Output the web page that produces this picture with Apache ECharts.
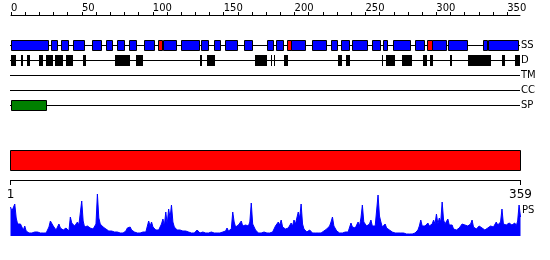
<!DOCTYPE html>
<html><head><meta charset="utf-8">
<script src="https://cdn.jsdelivr.net/npm/echarts@6/dist/echarts.min.js"></script>
<style>html,body{margin:0;padding:0;background:#fff}#c{width:550px;height:260px}</style>
</head><body><div id="c"></div>
<script>
const seqLength = 359;
const trackNames = ['SS', 'D', 'TM', 'CC', 'SP'];
const rulerTicks = [0,10,20,30,40,50,60,70,80,90,100,110,120,130,140,150,160,170,180,190,200,210,220,230,240,250,260,270,280,290,300,310,320,330,340,350];
const rulerLabels = [0,50,100,150,200,250,300,350];
const psEnds = [1, 359];

const ssHelix = [[0,26.4],[28.2,32.2],[35.6,40.4],[44,51.3],[57.3,63.3],[67.2,71.4],[75.1,79.5],[83.4,88.4],[94.1,101.1],[107.4,116.7],[119.9,132.4],[134.2,138.7],[143.5,147.7],[151.1,159.6],[164.5,170.2],[180.7,184.6],[186.7,191.6],[197.5,207.1],[212.5,222.4],[225.9,229.7],[232.9,238.1],[240.7,250.8],[254.6,260.4],[262.3,265],[269.7,281.7],[284.6,291.6],[296.7,307.1],[308.2,321.8],[333.1,336],[336.4,357.8]];
const ssStrand = [[103.5,106.7],[194.9,197.5],[293.6,296.7]];
const disorder = [[0,3.5],[6.8,8.5],[11.3,13.2],[19.7,22.6],[25,29.8],[31,36.9],[39,43.9],[50.8,52.9],[73.3,83.6],[88.2,93.1],[133.5,134.6],[138.4,143.7],[172.1,180.8],[183.1,184.1],[185.3,186.4],[192.9,195.1],[230.6,233.8],[236.2,239.1],[261.6,262.7],[264.5,270.5],[275.9,283],[290.7,293.2],[295.8,297.8],[309.6,310.8],[322.4,338.4],[346.4,348.2],[355.2,359]];
const signalPeptide = [[0,25]];
const domains = [[0,359]];

const psValues = [
29,25,27,32,18,12,11,12,10,6, 10,5,4,3,4,3,3,4,3,4,
4,3,3,3,4,3,5,9,15,16, 10,8,6,7,12,8,6,6,5,8,
9,5,19,13,11,10,8,14,11,12, 35,15,9,9,10,9,8,9,7,8,
12,42,18,12,10,9,8,7,6,5, 6,5,4,4,3,4,3,3,4,3,
4,5,8,6,9,6,5,4,3,3, 4,3,3,4,3,4,6,15,10,14,
9,8,6,5,6,7,12,17,10,24, 12,27,18,31,14,9,7,6,5,6,
5,5,6,5,5,4,4,3,4,3, 4,6,4,3,3,4,3,3,4,3,
5,4,3,3,4,3,4,3,5,4, 3,5,8,5,6,7,24,14,9,8,
11,9,15,10,9,11,9,10,14,33, 12,9,6,4,3,4,3,3,4,3,
3,4,3,3,4,3,10,12,14,11, 16,9,8,7,6,8,10,13,10,16,
12,18,24,18,32,12,7,5,4,5, 6,4,3,4,3,4,3,4,3,4,
5,6,7,9,10,14,19,10,8,5, 4,3,4,3,3,4,3,4,6,13,
9,10,8,10,14,10,18,31,14,12, 10,11,12,16,10,9,10,12,41,20,
14,9,10,12,8,6,6,5,4,3, 3,2,3,2,3,2,3,2,2,3,
2,3,2,3,3,4,6,10,16,10, 9,10,11,13,10,9,12,16,12,22,
12,18,14,34,16,12,10,17,11,10, 11,7,6,6,7,8,10,12,10,11,
13,10,9,12,16,9,8,7,8,10, 9,8,7,6,7,8,9,10,11,9,
10,14,11,10,14,27,12,10,11,12, 13,15,11,12,13,10,15,31,19
];

const black = '#000000';
function rangeItems(ranges, row) { return ranges.map(r => [r[0], r[1], row]); }

function boxRender(stroked) {
  return function (params, api) {
    const row = api.value(2);
    const a = api.coord([api.value(0), row]);
    const b = api.coord([api.value(1), row]);
    const band = api.size([0, 1])[1];
    const h = Math.round(band * 2 / 3);
    const color = api.visual('color');
    if (stroked) {
      const x0 = Math.round(a[0]) + 0.5;
      const x1 = Math.max(Math.round(b[0]) + 0.5, x0 + 1);
      const y0 = Math.floor(a[1] - h / 2) + 0.5;
      return { type: 'rect', shape: { x: x0, y: y0, width: x1 - x0, height: h },
        style: { fill: color, stroke: black, lineWidth: 1 } };
    }
    const x0 = Math.round(a[0]);
    const x1 = Math.max(Math.round(b[0]), x0 + 1);
    const y0 = Math.floor(a[1] - h / 2);
    return { type: 'rect', shape: { x: x0, y: y0, width: x1 - x0, height: h + 1 },
      style: { fill: color } };
  };
}

function lineRender(params, api) {
  const row = api.value(2);
  const a = api.coord([api.value(0), row]);
  const b = api.coord([api.value(1), row]);
  const y = Math.floor(a[1]) + 0.5;
  return { type: 'line', shape: { x1: Math.round(a[0]) - 1, y1: y, x2: Math.round(b[0]), y2: y },
    style: { stroke: black, lineWidth: 1 } };
}

function domainRender(params, api) {
  const row = api.value(2);
  const a = api.coord([api.value(0), row]);
  const b = api.coord([api.value(1), row]);
  const band = api.size([0, 1])[1];
  const x0 = Math.round(a[0]) - 0.5;
  const x1 = Math.round(b[0]) + 0.5;
  const y0 = Math.floor(a[1] - band / 2) + 0.5;
  return { type: 'rect', shape: { x: x0, y: y0, width: x1 - x0, height: band },
    style: { fill: api.visual('color'), stroke: black, lineWidth: 1 } };
}

const chart = echarts.init(document.getElementById('c'));
const trackSeries = (name, ranges, row, color, stroked) => ({
  name, type: 'custom', xAxisIndex: 1, yAxisIndex: 1, renderItem: boxRender(stroked),
  itemStyle: { color }, encode: { x: [0, 1], y: 2 }, data: rangeItems(ranges, row), z: 3
});

chart.setOption({
  animation: false,
  textStyle: { fontFamily: 'DejaVu Sans' },
  grid: [
    { left: 11, width: 509, top: 15, height: 1 },
    { left: 11, width: 509, top: 38, height: 75 },
    { left: 11, width: 509, top: 150, height: 20 },
    { left: 10.5, width: 510, top: 180, height: 56 }
  ],
  xAxis: [
    { gridIndex: 0, type: 'value', position: 'top', min: 0, max: seqLength,
      axisLine: { onZero: false, lineStyle: { color: black, width: 1 } },
      axisTick: { customValues: rulerTicks, length: 3, lineStyle: { color: black } },
      axisLabel: { customValues: rulerLabels, align: 'left', margin: 2, fontSize: 10, color: black },
      splitLine: { show: false } },
    { gridIndex: 1, type: 'value', min: 0, max: seqLength, show: false },
    { gridIndex: 2, type: 'value', min: 0, max: seqLength, show: false },
    { gridIndex: 3, type: 'value', position: 'top', min: 1, max: seqLength,
      axisLine: { onZero: false, lineStyle: { color: black, width: 1 } },
      axisTick: { customValues: psEnds, inside: true, length: 5, lineStyle: { color: black } },
      axisLabel: { customValues: psEnds, inside: true, margin: 9, fontSize: 12, color: black },
      splitLine: { show: false } }
  ],
  yAxis: [
    { gridIndex: 0, type: 'value', show: false },
    { gridIndex: 1, type: 'category', data: trackNames, inverse: true, position: 'right',
      axisLine: { show: false }, axisTick: { show: false },
      axisLabel: { margin: 1, fontSize: 10, color: black }, splitLine: { show: false } },
    { gridIndex: 2, type: 'category', data: ['domain'], show: false },
    { gridIndex: 3, type: 'value', min: 0, max: 56, show: false }
  ],
  series: [
    { name: 'rows', type: 'custom', xAxisIndex: 1, yAxisIndex: 1, renderItem: lineRender,
      encode: { x: [0, 1], y: 2 }, data: trackNames.map((n, i) => [0, seqLength, i]), z: 1 },
    trackSeries('helix', ssHelix, 0, '#0000ff', true),
    trackSeries('strand', ssStrand, 0, '#ff0000', true),
    trackSeries('disorder', disorder, 1, '#000000', false),
    trackSeries('signal', signalPeptide, 4, '#008000', true),
    { name: 'domain', type: 'custom', xAxisIndex: 2, yAxisIndex: 2, renderItem: domainRender,
      itemStyle: { color: '#ff0000' }, encode: { x: [0, 1], y: 2 }, data: rangeItems(domains, 0) },
    { name: 'PS', type: 'line', xAxisIndex: 3, yAxisIndex: 3, showSymbol: false, symbol: 'none',
      lineStyle: { color: '#0000ff', width: 1 }, areaStyle: { color: '#0000ff', opacity: 1 },
      data: psValues.map((v, i) => [i + 1, v]) }
  ],
  graphic: [
    { type: 'text', left: 522, top: 205, style: { text: 'PS', fontSize: 10, fill: black, fontFamily: 'DejaVu Sans' } }
  ]
});
</script>
</body></html>
